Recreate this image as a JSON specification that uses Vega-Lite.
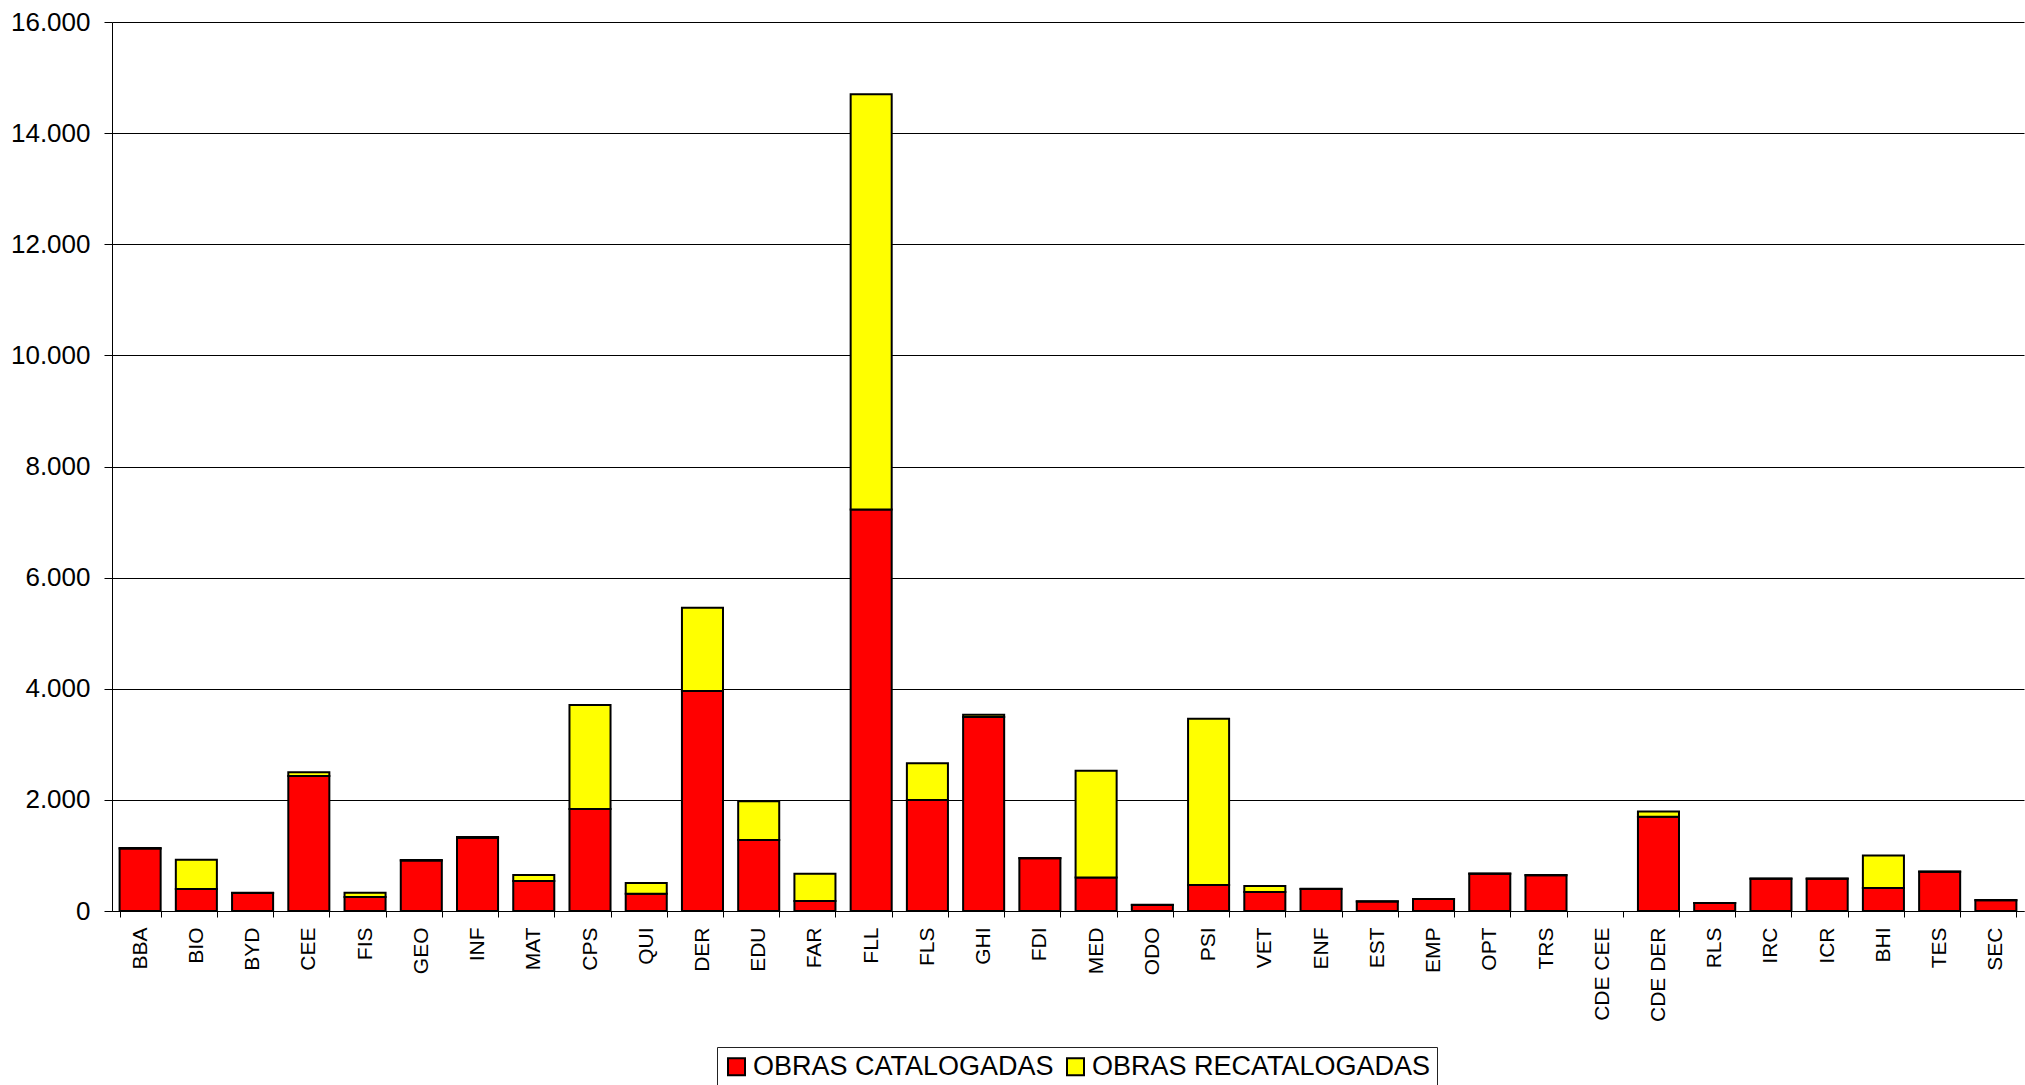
{
  "$schema": "https://vega.github.io/schema/vega-lite/v6.json",
  "width": 1912,
  "height": 889,
  "autosize": {"type": "none"},
  "padding": {"left": 112, "top": 22, "right": 1, "bottom": 174},
  "background": "white",
  "config": {
    "view": {"stroke": null},
    "font": "Liberation Sans"
  },
  "datasets": {
    "obras": [
      {"sigla": "BBA", "cat": 1125, "recat": 10},
      {"sigla": "BIO", "cat": 396, "recat": 528},
      {"sigla": "BYD", "cat": 325, "recat": 5},
      {"sigla": "CEE", "cat": 2430, "recat": 65},
      {"sigla": "FIS", "cat": 250, "recat": 80},
      {"sigla": "GEO", "cat": 910, "recat": 6},
      {"sigla": "INF", "cat": 1320, "recat": 10},
      {"sigla": "MAT", "cat": 540, "recat": 108},
      {"sigla": "CPS", "cat": 1836, "recat": 1872},
      {"sigla": "QUI", "cat": 312, "recat": 192},
      {"sigla": "DER", "cat": 3960, "recat": 1500},
      {"sigla": "EDU", "cat": 1278, "recat": 696},
      {"sigla": "FAR", "cat": 180, "recat": 492},
      {"sigla": "FLL", "cat": 7228, "recat": 7470},
      {"sigla": "FLS", "cat": 1997, "recat": 662},
      {"sigla": "GHI", "cat": 3490, "recat": 40},
      {"sigla": "FDI", "cat": 950, "recat": 6},
      {"sigla": "MED", "cat": 601, "recat": 1925},
      {"sigla": "ODO", "cat": 110, "recat": 4},
      {"sigla": "PSI", "cat": 469, "recat": 2990},
      {"sigla": "VET", "cat": 343, "recat": 108},
      {"sigla": "ENF", "cat": 397, "recat": 4},
      {"sigla": "EST", "cat": 172, "recat": 2},
      {"sigla": "EMP", "cat": 215, "recat": 2},
      {"sigla": "OPT", "cat": 670, "recat": 4},
      {"sigla": "TRS", "cat": 645, "recat": 5},
      {"sigla": "CDE CEE", "cat": 0, "recat": 0},
      {"sigla": "CDE DER", "cat": 1696, "recat": 96},
      {"sigla": "RLS", "cat": 142, "recat": 2},
      {"sigla": "IRC", "cat": 580, "recat": 3},
      {"sigla": "ICR", "cat": 580, "recat": 3},
      {"sigla": "BHI", "cat": 415, "recat": 583},
      {"sigla": "TES", "cat": 705, "recat": 5},
      {"sigla": "SEC", "cat": 195, "recat": 3}
    ]
  },
  "data": {"name": "obras"},
  "transform": [
    {"fold": ["cat", "recat"], "as": ["clave", "valor"]},
    {"lookup": "clave", "from": {"data": {"values": [
      {"clave": "cat", "tipo": "OBRAS CATALOGADAS"},
      {"clave": "recat", "tipo": "OBRAS RECATALOGADAS"}
    ]}, "key": "clave", "fields": ["tipo"]}}
  ],
  "mark": {"type": "bar", "stroke": "black", "strokeJoin": "miter"},
  "encoding": {
    "x": {
      "field": "sigla",
      "type": "nominal",
      "sort": null,
      "scale": {"paddingInner": 0.27, "paddingOuter": 0.135},
      "axis": {
        "title": null,
        "labelAngle": 270,
        "labelFontSize": 21,
        "labelFont": "Liberation Sans",
        "labelColor": "black",
        "labelPadding": 10,
        "tickBand": "extent",
        "tickSize": 6,
        "tickColor": "black",
        "domainColor": "black",
        "domainWidth": 1,
        "grid": false
      }
    },
    "y": {
      "field": "valor",
      "type": "quantitative",
      "stack": "zero",
      "scale": {"domain": [0, 16000], "nice": false},
      "axis": {
        "title": null,
        "values": [0, 2000, 4000, 6000, 8000, 10000, 12000, 14000, 16000],
        "labelExpr": "replace(format(datum.value, ',d'), ',', '.')",
        "labelFontSize": 26,
        "labelFont": "Liberation Sans",
        "labelColor": "black",
        "labelPadding": 14,
        "tickSize": 8,
        "tickColor": "black",
        "domainColor": "black",
        "grid": true,
        "gridColor": "black",
        "gridOpacity": 1,
        "gridWidth": 1
      }
    },
    "strokeWidth": {
      "condition": {"test": "datum.valor == 0 && datum.sigla == 'CDE CEE'", "value": 0},
      "value": 2
    },
    "color": {
      "field": "tipo",
      "type": "nominal",
      "scale": {"domain": ["OBRAS CATALOGADAS", "OBRAS RECATALOGADAS"], "range": ["#FF0000", "#FFFF00"]},
      "legend": {
        "title": null,
        "orient": "none",
        "legendX": 605,
        "legendY": 1025,
        "direction": "horizontal",
        "strokeColor": "#222222",
        "fillColor": "white",
        "padding": 6,
        "symbolType": "square",
        "symbolSize": 289,
        "symbolStrokeColor": "black",
        "symbolStrokeWidth": 2,
        "symbolOpacity": 1,
        "labelFontSize": 27,
        "labelFont": "Liberation Sans",
        "labelColor": "black",
        "labelOffset": 3,
        "columnPadding": 8,
        "labelLimit": 0
      }
    },
    "order": {"field": "clave", "type": "nominal", "sort": "ascending"}
  }
}
